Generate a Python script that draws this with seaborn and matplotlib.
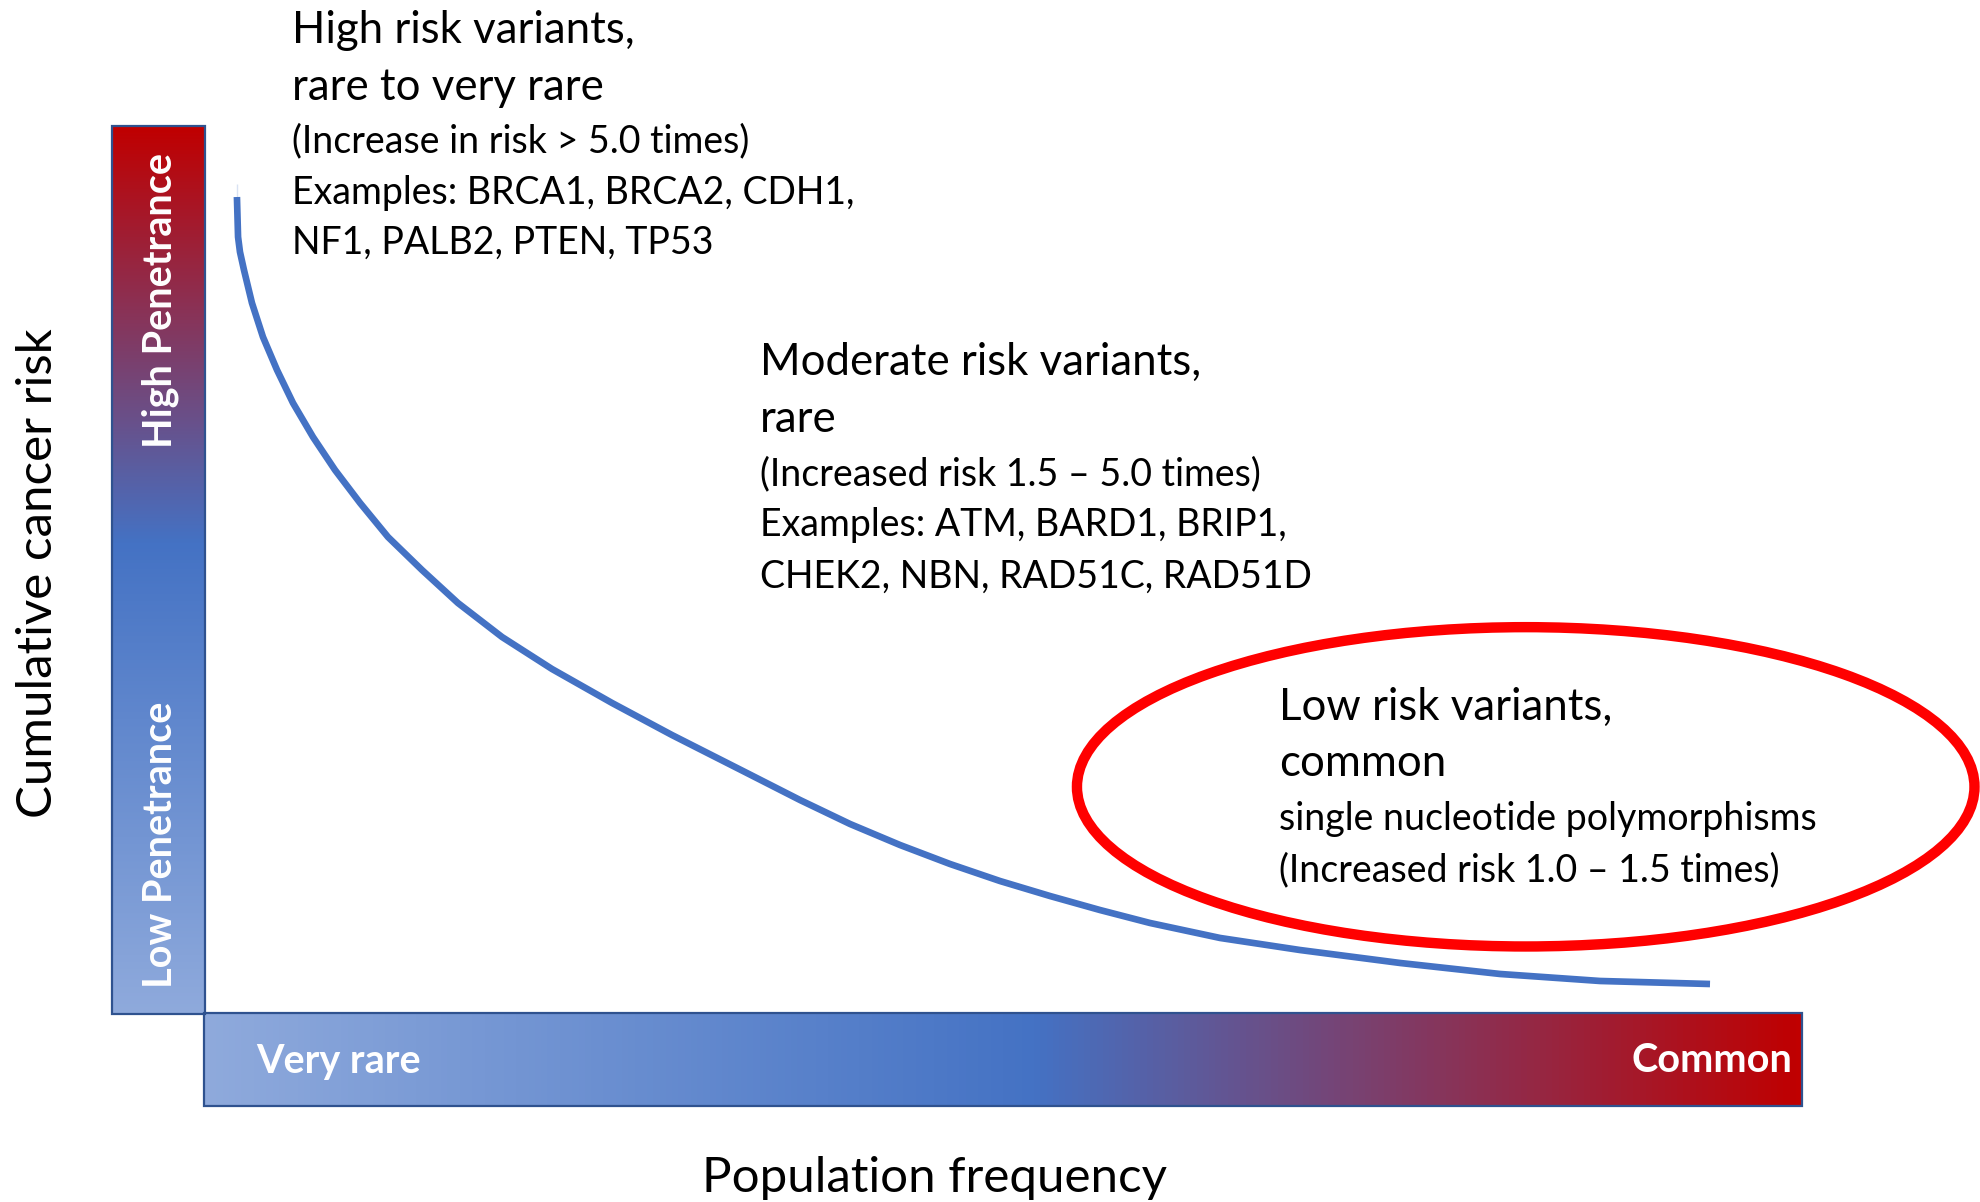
import matplotlib.pyplot as plt
import numpy as np
import seaborn as sns
from matplotlib.colors import LinearSegmentedColormap
from matplotlib.patches import Ellipse, Rectangle

# ---------------------------------------------------------------------------
# Data (curve; frequency and risk in 0..1 of plot area)
# ---------------------------------------------------------------------------
freq = [0.0200, 0.0200, 0.0207, 0.0219, 0.0244, 0.0294, 0.0363, 0.0451,
        0.0551, 0.0676, 0.0814, 0.0971, 0.1146, 0.1359, 0.1584, 0.1860,
        0.2173, 0.2549, 0.2924, 0.3381, 0.3726, 0.4039, 0.4352, 0.4665,
        0.4978, 0.5291, 0.5604, 0.5917, 0.6356, 0.6857, 0.7483, 0.8109,
        0.8735, 0.9424]
risk = [0.9346, 0.9053, 0.8749, 0.8580, 0.8377, 0.8005, 0.7621, 0.7249,
        0.6877, 0.6494, 0.6122, 0.5750, 0.5366, 0.4994, 0.4622, 0.4239,
        0.3878, 0.3495, 0.3134, 0.2717, 0.2401, 0.2131, 0.1894, 0.1680,
        0.1488, 0.1319, 0.1161, 0.1015, 0.0846, 0.0710, 0.0564, 0.0440,
        0.0361, 0.0327]

# highlighted region (centre freq, centre risk, width, height)
low_risk_zone = (0.827, 0.255, 0.562, 0.360)

high_lines = ["High risk variants,", "rare to very rare",
              "(Increase in risk > 5.0 times)",
              "Examples: BRCA1, BRCA2, CDH1,", "NF1, PALB2, PTEN, TP53"]
moderate_lines = ["Moderate risk variants,", "rare",
                  "(Increased risk 1.5 \u2013 5.0 times)",
                  "Examples: ATM, BARD1, BRIP1,",
                  "CHEK2, NBN, RAD51C, RAD51D"]
low_lines = ["Low risk variants,", "common",
             "single nucleotide polymorphisms",
             "(Increased risk 1.0 \u2013 1.5 times)"]
line_is_big = [[True, True, False, False, False],
               [True, True, False, False, False],
               [True, True, False, False]]

x_label = "Population frequency"
y_label = "Cumulative cancer risk"
x_ends = ["Very rare", "Common"]
y_ends = ["High Penetrance", "Low Penetrance"]

# ---------------------------------------------------------------------------
# Style
# ---------------------------------------------------------------------------
RED = "#C00000"
BLUE = "#4472C4"
LIGHT = "#8FAADC"
EDGE = "#2F528F"

sns.set_theme(style="white")
plt.rcParams["font.family"] = ["Lato", "DejaVu Sans"]

W, H = 1980, 1202
fig = plt.figure(figsize=(W / 100, H / 100), dpi=100)
fig.patch.set_facecolor("white")

# overlay axes in pixel units for the frame, bars and text
ax = fig.add_axes([0, 0, 1, 1])
ax.set_xlim(0, W)
ax.set_ylim(H, 0)
ax.axis("off")

# gradient bars
vbar = (112, 205, 126, 1014)   # left, right, top, bottom
hbar = (204, 1802, 1013, 1106)

vcmap = LinearSegmentedColormap.from_list(
    "v", [(0, RED), (0.47, BLUE), (1, LIGHT)])
hcmap = LinearSegmentedColormap.from_list(
    "h", [(0, LIGHT), (0.52, BLUE), (1, RED)])
grad = np.linspace(0, 1, 512)

ax.imshow(grad[:, None], cmap=vcmap, aspect="auto", origin="upper",
          extent=(vbar[0], vbar[1], vbar[3], vbar[2]), zorder=1)
ax.imshow(grad[None, :], cmap=hcmap, aspect="auto", origin="upper",
          extent=(hbar[0], hbar[1], hbar[3], hbar[2]), zorder=1)
for l, r, t, b in (vbar, hbar):
    ax.add_patch(Rectangle((l, t), r - l, b - t, fill=False,
                           edgecolor=EDGE, lw=1.6, zorder=2))
ax.set_xlim(0, W)
ax.set_ylim(H, 0)

# bar labels
bold = dict(color="white", fontweight="bold", fontsize=28.5)
ax.text(160, 301, y_ends[0], rotation=90, ha="center", va="center", **bold)
ax.text(160, 845, y_ends[1], rotation=90, ha="center", va="center", **bold)
ax.text(256, 1061, x_ends[0], ha="left", va="center", **bold)
ax.text(1792, 1061, x_ends[1], ha="right", va="center", **bold)

# axis titles
ax.text(38, 573, y_label, rotation=90, ha="center", va="center",
        fontsize=35.5, color="black")
ax.text(935, 1192, x_label, ha="center", va="baseline",
        fontsize=35.5, color="black")

# annotation blocks
blocks = [
    (292, [43, 100, 152, 204, 254], high_lines),
    (760, [375, 432, 485, 536, 588], moderate_lines),
    (1279, [720, 776, 830, 881], low_lines),
]
for (x0, ys, lines), sizes in zip(blocks, line_is_big):
    for y0, txt, big in zip(ys, lines, sizes):
        ax.text(x0, y0, txt, ha="left", va="baseline",
                fontsize=31.5 if big else 27, color="black")

# plot area axes: the penetrance curve
pa = fig.add_axes([205 / W, (H - 1013) / H, 1597 / W, 887 / H])
pa.set_xlim(0, 1)
pa.set_ylim(0, 1)
pa.axis("off")
pa.patch.set_alpha(0)

sns.lineplot(x=freq, y=risk, ax=pa, color=BLUE, lw=4.8, sort=False,
             solid_capstyle="butt")

cx, cy, ew, eh = low_risk_zone
pa.add_patch(Ellipse((cx, cy), ew, eh, fill=False, edgecolor="#FF0000",
                     lw=7.5, clip_on=False))

fig.savefig("out.png", dpi=100, facecolor="white")
